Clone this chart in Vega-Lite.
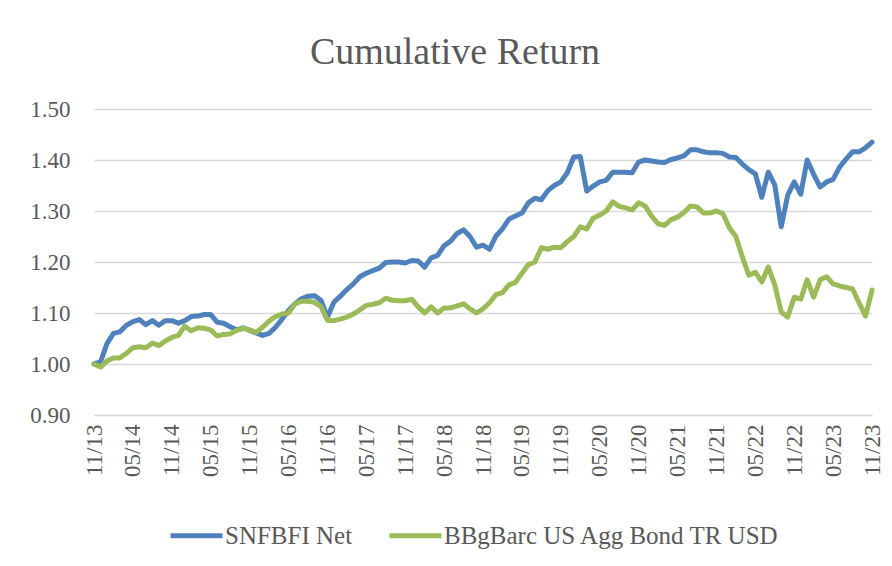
{
  "$schema": "https://vega.github.io/schema/vega-lite/v6.json",
  "width": 778,
  "height": 306,
  "autosize": {"type": "none"},
  "padding": {"left": 94, "top": 109, "right": 20, "bottom": 151},
  "background": "white",
  "title": {"text": "Cumulative Return", "font": "Liberation Serif", "fontSize": 38, "fontWeight": "normal", "color": "#595959", "anchor": "middle", "dx": -28, "offset": 26},
  "data": {"values": [
    {"d": "11/13", "SNFBFI Net": 1.000, "BBgBarc US Agg Bond TR USD": 1.000},
    {"d": "12/13", "SNFBFI Net": 1.004, "BBgBarc US Agg Bond TR USD": 0.994},
    {"d": "01/14", "SNFBFI Net": 1.040, "BBgBarc US Agg Bond TR USD": 1.006},
    {"d": "02/14", "SNFBFI Net": 1.060, "BBgBarc US Agg Bond TR USD": 1.012},
    {"d": "03/14", "SNFBFI Net": 1.063, "BBgBarc US Agg Bond TR USD": 1.012},
    {"d": "04/14", "SNFBFI Net": 1.076, "BBgBarc US Agg Bond TR USD": 1.021},
    {"d": "05/14", "SNFBFI Net": 1.083, "BBgBarc US Agg Bond TR USD": 1.032},
    {"d": "06/14", "SNFBFI Net": 1.087, "BBgBarc US Agg Bond TR USD": 1.034},
    {"d": "07/14", "SNFBFI Net": 1.077, "BBgBarc US Agg Bond TR USD": 1.032},
    {"d": "08/14", "SNFBFI Net": 1.085, "BBgBarc US Agg Bond TR USD": 1.041},
    {"d": "09/14", "SNFBFI Net": 1.076, "BBgBarc US Agg Bond TR USD": 1.036},
    {"d": "10/14", "SNFBFI Net": 1.085, "BBgBarc US Agg Bond TR USD": 1.045},
    {"d": "11/14", "SNFBFI Net": 1.085, "BBgBarc US Agg Bond TR USD": 1.052},
    {"d": "12/14", "SNFBFI Net": 1.080, "BBgBarc US Agg Bond TR USD": 1.056},
    {"d": "01/15", "SNFBFI Net": 1.085, "BBgBarc US Agg Bond TR USD": 1.074},
    {"d": "02/15", "SNFBFI Net": 1.093, "BBgBarc US Agg Bond TR USD": 1.065},
    {"d": "03/15", "SNFBFI Net": 1.094, "BBgBarc US Agg Bond TR USD": 1.071},
    {"d": "04/15", "SNFBFI Net": 1.097, "BBgBarc US Agg Bond TR USD": 1.070},
    {"d": "05/15", "SNFBFI Net": 1.097, "BBgBarc US Agg Bond TR USD": 1.067},
    {"d": "06/15", "SNFBFI Net": 1.082, "BBgBarc US Agg Bond TR USD": 1.055},
    {"d": "07/15", "SNFBFI Net": 1.080, "BBgBarc US Agg Bond TR USD": 1.058},
    {"d": "08/15", "SNFBFI Net": 1.073, "BBgBarc US Agg Bond TR USD": 1.059},
    {"d": "09/15", "SNFBFI Net": 1.067, "BBgBarc US Agg Bond TR USD": 1.066},
    {"d": "10/15", "SNFBFI Net": 1.071, "BBgBarc US Agg Bond TR USD": 1.070},
    {"d": "11/15", "SNFBFI Net": 1.066, "BBgBarc US Agg Bond TR USD": 1.067},
    {"d": "12/15", "SNFBFI Net": 1.061, "BBgBarc US Agg Bond TR USD": 1.062},
    {"d": "01/16", "SNFBFI Net": 1.056, "BBgBarc US Agg Bond TR USD": 1.072},
    {"d": "02/16", "SNFBFI Net": 1.060, "BBgBarc US Agg Bond TR USD": 1.084},
    {"d": "03/16", "SNFBFI Net": 1.072, "BBgBarc US Agg Bond TR USD": 1.093},
    {"d": "04/16", "SNFBFI Net": 1.088, "BBgBarc US Agg Bond TR USD": 1.098},
    {"d": "05/16", "SNFBFI Net": 1.105, "BBgBarc US Agg Bond TR USD": 1.100},
    {"d": "06/16", "SNFBFI Net": 1.118, "BBgBarc US Agg Bond TR USD": 1.118},
    {"d": "07/16", "SNFBFI Net": 1.128, "BBgBarc US Agg Bond TR USD": 1.123},
    {"d": "08/16", "SNFBFI Net": 1.133, "BBgBarc US Agg Bond TR USD": 1.123},
    {"d": "09/16", "SNFBFI Net": 1.134, "BBgBarc US Agg Bond TR USD": 1.121},
    {"d": "10/16", "SNFBFI Net": 1.125, "BBgBarc US Agg Bond TR USD": 1.113},
    {"d": "11/16", "SNFBFI Net": 1.092, "BBgBarc US Agg Bond TR USD": 1.086},
    {"d": "12/16", "SNFBFI Net": 1.121, "BBgBarc US Agg Bond TR USD": 1.085},
    {"d": "01/17", "SNFBFI Net": 1.133, "BBgBarc US Agg Bond TR USD": 1.088},
    {"d": "02/17", "SNFBFI Net": 1.146, "BBgBarc US Agg Bond TR USD": 1.092},
    {"d": "03/17", "SNFBFI Net": 1.157, "BBgBarc US Agg Bond TR USD": 1.098},
    {"d": "04/17", "SNFBFI Net": 1.171, "BBgBarc US Agg Bond TR USD": 1.106},
    {"d": "05/17", "SNFBFI Net": 1.178, "BBgBarc US Agg Bond TR USD": 1.115},
    {"d": "06/17", "SNFBFI Net": 1.183, "BBgBarc US Agg Bond TR USD": 1.117},
    {"d": "07/17", "SNFBFI Net": 1.188, "BBgBarc US Agg Bond TR USD": 1.120},
    {"d": "08/17", "SNFBFI Net": 1.199, "BBgBarc US Agg Bond TR USD": 1.129},
    {"d": "09/17", "SNFBFI Net": 1.200, "BBgBarc US Agg Bond TR USD": 1.125},
    {"d": "10/17", "SNFBFI Net": 1.200, "BBgBarc US Agg Bond TR USD": 1.124},
    {"d": "11/17", "SNFBFI Net": 1.198, "BBgBarc US Agg Bond TR USD": 1.124},
    {"d": "12/17", "SNFBFI Net": 1.203, "BBgBarc US Agg Bond TR USD": 1.127},
    {"d": "01/18", "SNFBFI Net": 1.202, "BBgBarc US Agg Bond TR USD": 1.112},
    {"d": "02/18", "SNFBFI Net": 1.190, "BBgBarc US Agg Bond TR USD": 1.100},
    {"d": "03/18", "SNFBFI Net": 1.208, "BBgBarc US Agg Bond TR USD": 1.112},
    {"d": "04/18", "SNFBFI Net": 1.213, "BBgBarc US Agg Bond TR USD": 1.100},
    {"d": "05/18", "SNFBFI Net": 1.232, "BBgBarc US Agg Bond TR USD": 1.110},
    {"d": "06/18", "SNFBFI Net": 1.241, "BBgBarc US Agg Bond TR USD": 1.110},
    {"d": "07/18", "SNFBFI Net": 1.256, "BBgBarc US Agg Bond TR USD": 1.114},
    {"d": "08/18", "SNFBFI Net": 1.263, "BBgBarc US Agg Bond TR USD": 1.118},
    {"d": "09/18", "SNFBFI Net": 1.250, "BBgBarc US Agg Bond TR USD": 1.108},
    {"d": "10/18", "SNFBFI Net": 1.229, "BBgBarc US Agg Bond TR USD": 1.100},
    {"d": "11/18", "SNFBFI Net": 1.233, "BBgBarc US Agg Bond TR USD": 1.108},
    {"d": "12/18", "SNFBFI Net": 1.225, "BBgBarc US Agg Bond TR USD": 1.120},
    {"d": "01/19", "SNFBFI Net": 1.251, "BBgBarc US Agg Bond TR USD": 1.136},
    {"d": "02/19", "SNFBFI Net": 1.265, "BBgBarc US Agg Bond TR USD": 1.140},
    {"d": "03/19", "SNFBFI Net": 1.284, "BBgBarc US Agg Bond TR USD": 1.155},
    {"d": "04/19", "SNFBFI Net": 1.290, "BBgBarc US Agg Bond TR USD": 1.160},
    {"d": "05/19", "SNFBFI Net": 1.296, "BBgBarc US Agg Bond TR USD": 1.178},
    {"d": "06/19", "SNFBFI Net": 1.316, "BBgBarc US Agg Bond TR USD": 1.195},
    {"d": "07/19", "SNFBFI Net": 1.325, "BBgBarc US Agg Bond TR USD": 1.200},
    {"d": "08/19", "SNFBFI Net": 1.322, "BBgBarc US Agg Bond TR USD": 1.228},
    {"d": "09/19", "SNFBFI Net": 1.340, "BBgBarc US Agg Bond TR USD": 1.225},
    {"d": "10/19", "SNFBFI Net": 1.350, "BBgBarc US Agg Bond TR USD": 1.229},
    {"d": "11/19", "SNFBFI Net": 1.357, "BBgBarc US Agg Bond TR USD": 1.228},
    {"d": "12/19", "SNFBFI Net": 1.375, "BBgBarc US Agg Bond TR USD": 1.240},
    {"d": "01/20", "SNFBFI Net": 1.406, "BBgBarc US Agg Bond TR USD": 1.250},
    {"d": "02/20", "SNFBFI Net": 1.407, "BBgBarc US Agg Bond TR USD": 1.269},
    {"d": "03/20", "SNFBFI Net": 1.339, "BBgBarc US Agg Bond TR USD": 1.265},
    {"d": "04/20", "SNFBFI Net": 1.349, "BBgBarc US Agg Bond TR USD": 1.286},
    {"d": "05/20", "SNFBFI Net": 1.357, "BBgBarc US Agg Bond TR USD": 1.292},
    {"d": "06/20", "SNFBFI Net": 1.360, "BBgBarc US Agg Bond TR USD": 1.300},
    {"d": "07/20", "SNFBFI Net": 1.376, "BBgBarc US Agg Bond TR USD": 1.318},
    {"d": "08/20", "SNFBFI Net": 1.376, "BBgBarc US Agg Bond TR USD": 1.309},
    {"d": "09/20", "SNFBFI Net": 1.376, "BBgBarc US Agg Bond TR USD": 1.306},
    {"d": "10/20", "SNFBFI Net": 1.375, "BBgBarc US Agg Bond TR USD": 1.302},
    {"d": "11/20", "SNFBFI Net": 1.396, "BBgBarc US Agg Bond TR USD": 1.316},
    {"d": "12/20", "SNFBFI Net": 1.400, "BBgBarc US Agg Bond TR USD": 1.310},
    {"d": "01/21", "SNFBFI Net": 1.398, "BBgBarc US Agg Bond TR USD": 1.290},
    {"d": "02/21", "SNFBFI Net": 1.396, "BBgBarc US Agg Bond TR USD": 1.275},
    {"d": "03/21", "SNFBFI Net": 1.395, "BBgBarc US Agg Bond TR USD": 1.272},
    {"d": "04/21", "SNFBFI Net": 1.401, "BBgBarc US Agg Bond TR USD": 1.283},
    {"d": "05/21", "SNFBFI Net": 1.404, "BBgBarc US Agg Bond TR USD": 1.288},
    {"d": "06/21", "SNFBFI Net": 1.408, "BBgBarc US Agg Bond TR USD": 1.297},
    {"d": "07/21", "SNFBFI Net": 1.420, "BBgBarc US Agg Bond TR USD": 1.310},
    {"d": "08/21", "SNFBFI Net": 1.420, "BBgBarc US Agg Bond TR USD": 1.308},
    {"d": "09/21", "SNFBFI Net": 1.416, "BBgBarc US Agg Bond TR USD": 1.296},
    {"d": "10/21", "SNFBFI Net": 1.414, "BBgBarc US Agg Bond TR USD": 1.296},
    {"d": "11/21", "SNFBFI Net": 1.414, "BBgBarc US Agg Bond TR USD": 1.300},
    {"d": "12/21", "SNFBFI Net": 1.413, "BBgBarc US Agg Bond TR USD": 1.295},
    {"d": "01/22", "SNFBFI Net": 1.406, "BBgBarc US Agg Bond TR USD": 1.267},
    {"d": "02/22", "SNFBFI Net": 1.405, "BBgBarc US Agg Bond TR USD": 1.250},
    {"d": "03/22", "SNFBFI Net": 1.392, "BBgBarc US Agg Bond TR USD": 1.210},
    {"d": "04/22", "SNFBFI Net": 1.381, "BBgBarc US Agg Bond TR USD": 1.174},
    {"d": "05/22", "SNFBFI Net": 1.373, "BBgBarc US Agg Bond TR USD": 1.180},
    {"d": "06/22", "SNFBFI Net": 1.327, "BBgBarc US Agg Bond TR USD": 1.161},
    {"d": "07/22", "SNFBFI Net": 1.376, "BBgBarc US Agg Bond TR USD": 1.190},
    {"d": "08/22", "SNFBFI Net": 1.351, "BBgBarc US Agg Bond TR USD": 1.155},
    {"d": "09/22", "SNFBFI Net": 1.269, "BBgBarc US Agg Bond TR USD": 1.102},
    {"d": "10/22", "SNFBFI Net": 1.331, "BBgBarc US Agg Bond TR USD": 1.092},
    {"d": "11/22", "SNFBFI Net": 1.357, "BBgBarc US Agg Bond TR USD": 1.131},
    {"d": "12/22", "SNFBFI Net": 1.333, "BBgBarc US Agg Bond TR USD": 1.127},
    {"d": "01/23", "SNFBFI Net": 1.400, "BBgBarc US Agg Bond TR USD": 1.165},
    {"d": "02/23", "SNFBFI Net": 1.372, "BBgBarc US Agg Bond TR USD": 1.131},
    {"d": "03/23", "SNFBFI Net": 1.347, "BBgBarc US Agg Bond TR USD": 1.165},
    {"d": "04/23", "SNFBFI Net": 1.357, "BBgBarc US Agg Bond TR USD": 1.171},
    {"d": "05/23", "SNFBFI Net": 1.362, "BBgBarc US Agg Bond TR USD": 1.157},
    {"d": "06/23", "SNFBFI Net": 1.386, "BBgBarc US Agg Bond TR USD": 1.153},
    {"d": "07/23", "SNFBFI Net": 1.402, "BBgBarc US Agg Bond TR USD": 1.150},
    {"d": "08/23", "SNFBFI Net": 1.416, "BBgBarc US Agg Bond TR USD": 1.147},
    {"d": "09/23", "SNFBFI Net": 1.416, "BBgBarc US Agg Bond TR USD": 1.120},
    {"d": "10/23", "SNFBFI Net": 1.424, "BBgBarc US Agg Bond TR USD": 1.094},
    {"d": "11/23", "SNFBFI Net": 1.435, "BBgBarc US Agg Bond TR USD": 1.145}
  ]},
  "transform": [{"fold": ["SNFBFI Net", "BBgBarc US Agg Bond TR USD"], "as": ["series", "value"]}],
  "mark": {"type": "line", "strokeWidth": 5, "strokeJoin": "round", "strokeCap": "round"},
  "encoding": {
    "x": {
      "field": "d", "type": "ordinal", "sort": null,
      "scale": {"type": "point", "padding": 0},
      "axis": {
        "title": null,
        "values": ["11/13", "05/14", "11/14", "05/15", "11/15", "05/16", "11/16", "05/17", "11/17", "05/18", "11/18", "05/19", "11/19", "05/20", "11/20", "05/21", "11/21", "05/22", "11/22", "05/23", "11/23"],
        "labelAngle": -90, "labelAlign": "right", "labelBaseline": "middle",
        "labelFont": "Liberation Serif", "labelFontSize": 23, "labelColor": "#595959",
        "labelPadding": 9, "labelOverlap": false, "labelBound": false,
        "ticks": false, "grid": false, "domain": true, "domainColor": "#d9d9d9", "domainWidth": 1.5
      }
    },
    "y": {
      "field": "value", "type": "quantitative",
      "scale": {"domain": [0.9, 1.5], "zero": false, "nice": false},
      "axis": {
        "title": null, "values": [0.9, 1.0, 1.1, 1.2, 1.3, 1.4, 1.5], "format": ".2f",
        "labelFont": "Liberation Serif", "labelFontSize": 23, "labelColor": "#595959",
        "labelPadding": 24, "ticks": false, "domain": false,
        "grid": true, "gridColor": "#d9d9d9", "gridWidth": 1.5
      }
    },
    "color": {
      "field": "series", "type": "nominal",
      "scale": {"domain": ["SNFBFI Net", "BBgBarc US Agg Bond TR USD"], "range": ["#4F81BD", "#9BBB59"]},
      "legend": {
        "title": null, "orient": "none", "legendX": 74, "legendY": 398, "direction": "horizontal",
        "symbolType": "stroke", "symbolSize": 2700, "symbolStrokeWidth": 5,
        "labelFont": "Liberation Serif", "labelFontSize": 25, "labelColor": "#595959",
        "labelOffset": 0, "columnPadding": 26, "labelLimit": 600
      }
    }
  },
  "config": {"view": {"stroke": null}}
}
